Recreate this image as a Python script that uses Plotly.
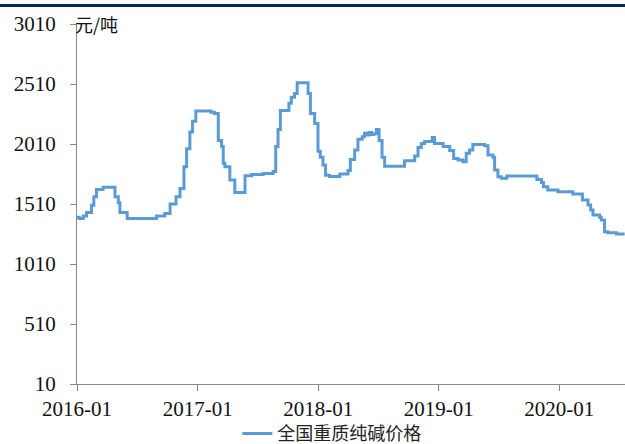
import plotly.graph_objects as go

# Data: change points of the national heavy soda ash price (元/吨)
dates = [
    "2016-01-01", "2016-01-08", "2016-01-20", "2016-01-30", "2016-02-14", "2016-02-21",
    "2016-02-29", "2016-03-20", "2016-04-25", "2016-05-05", "2016-05-10", "2016-06-01",
    "2016-08-29", "2016-09-23", "2016-10-09", "2016-10-27", "2016-11-08", "2016-11-20",
    "2016-11-28", "2016-12-08", "2016-12-16", "2016-12-26", "2017-02-10", "2017-02-20",
    "2017-03-04", "2017-03-14", "2017-03-19", "2017-03-24", "2017-04-08", "2017-04-23",
    "2017-05-24", "2017-06-13", "2017-07-18", "2017-08-17", "2017-08-25", "2017-09-01",
    "2017-09-08", "2017-10-04", "2017-10-11", "2017-10-21", "2017-10-29", "2017-12-01",
    "2017-12-08", "2017-12-21", "2017-12-31", "2018-01-07", "2018-01-15", "2018-01-23",
    "2018-02-04", "2018-03-07", "2018-04-01", "2018-04-08", "2018-04-21", "2018-05-01",
    "2018-05-14", "2018-05-21", "2018-05-28", "2018-06-04", "2018-06-11", "2018-06-18",
    "2018-06-26", "2018-07-04", "2018-07-13", "2018-07-21", "2018-09-19", "2018-10-20",
    "2018-10-30", "2018-11-09", "2018-11-19", "2018-12-12", "2018-12-19", "2019-01-14",
    "2019-02-03", "2019-02-15", "2019-02-28", "2019-03-15", "2019-03-25", "2019-04-04",
    "2019-04-14", "2019-05-20", "2019-05-30", "2019-06-14", "2019-06-19", "2019-06-29",
    "2019-07-09", "2019-07-26", "2019-10-25", "2019-11-08", "2019-11-14", "2019-11-27",
    "2019-12-28", "2020-02-11", "2020-03-11", "2020-03-28", "2020-04-05", "2020-04-12",
    "2020-05-02", "2020-05-07", "2020-05-17", "2020-05-27", "2020-06-22", "2020-07-17",
]
prices = [
    1400, 1390, 1410, 1440, 1500, 1570,
    1630, 1650, 1570, 1520, 1440, 1390,
    1410, 1430, 1510, 1570, 1640, 1820,
    1970, 2110, 2200, 2285, 2275, 2265,
    2040, 1990, 1850, 1820, 1710, 1605,
    1745, 1755, 1765, 1780, 1990, 2130,
    2290, 2350, 2400, 2430, 2520, 2430,
    2265, 2180, 1950, 1900, 1835, 1750,
    1740, 1760, 1790, 1880, 1960, 2050,
    2070, 2100, 2085, 2105, 2090, 2095,
    2130, 2040, 1900, 1825, 1870, 1910,
    1980, 2015, 2030, 2065, 2015, 1990,
    1955, 1890, 1877, 1863, 1932, 1960,
    2005, 1995, 1918, 1900, 1793, 1738,
    1724, 1743, 1715, 1690, 1654, 1627,
    1613, 1593, 1543, 1502, 1460, 1418,
    1400, 1377, 1279, 1271, 1260, 1260,
]
series_name = "全国重质纯碱价格"
unit_label = "元/吨"
y_ticks = [10, 510, 1010, 1510, 2010, 2510, 3010]
x_ticks = ["2016-01-01", "2017-01-01", "2018-01-01", "2019-01-01", "2020-01-01"]
x_tick_labels = ["2016-01", "2017-01", "2018-01", "2019-01", "2020-01"]

SERIF = "Liberation Serif, Times New Roman, serif"
CJK = "Noto Sans CJK SC, sans-serif"
AXIS = "#898989"

fig = go.Figure()
fig.add_trace(go.Scatter(
    x=dates, y=prices, mode="lines", name=series_name,
    line=dict(color="#5B9BD5", width=3, shape="hv"),
))

fig.update_layout(
    width=625, height=444,
    margin=dict(l=77, r=0, t=24, b=60, autoexpand=False),
    paper_bgcolor="white", plot_bgcolor="white",
    showlegend=True,
    legend=dict(
        orientation="h", x=0.465, y=-0.138, xanchor="center", yanchor="middle",
        font=dict(family=CJK, size=18, color="#222222"),
        bgcolor="rgba(0,0,0,0)", itemwidth=30,
    ),
    xaxis=dict(
        type="date", range=["2016-01-01", "2020-07-18"],
        tickvals=x_ticks, ticktext=x_tick_labels,
        showgrid=False, zeroline=False, automargin=False,
        showline=True, linecolor=AXIS, linewidth=1,
        ticks="outside", ticklen=6, tickcolor=AXIS,
        tickfont=dict(family=SERIF, size=21, color="#111111"),
    ),
    yaxis=dict(
        range=[10, 3010], tickvals=y_ticks,
        showgrid=False, zeroline=False, automargin=False,
        showline=True, linecolor=AXIS, linewidth=1,
        ticks="outside", ticklen=6, tickcolor=AXIS,
        ticklabelstandoff=10,
        tickfont=dict(family=SERIF, size=21, color="#111111"),
    ),
    annotations=[dict(
        text=unit_label, xref="paper", yref="paper",
        x=-0.008, y=1.0, xanchor="left", yanchor="middle",
        showarrow=False, font=dict(family=CJK, size=18, color="#111111"),
    )],
    shapes=[dict(
        type="line", xref="paper", yref="paper",
        x0=-0.1405, x1=1.0, y0=1.0514, y1=1.0514,
        line=dict(color="#0C2463", width=3),
    )],
)

fig.write_html("out.html")
